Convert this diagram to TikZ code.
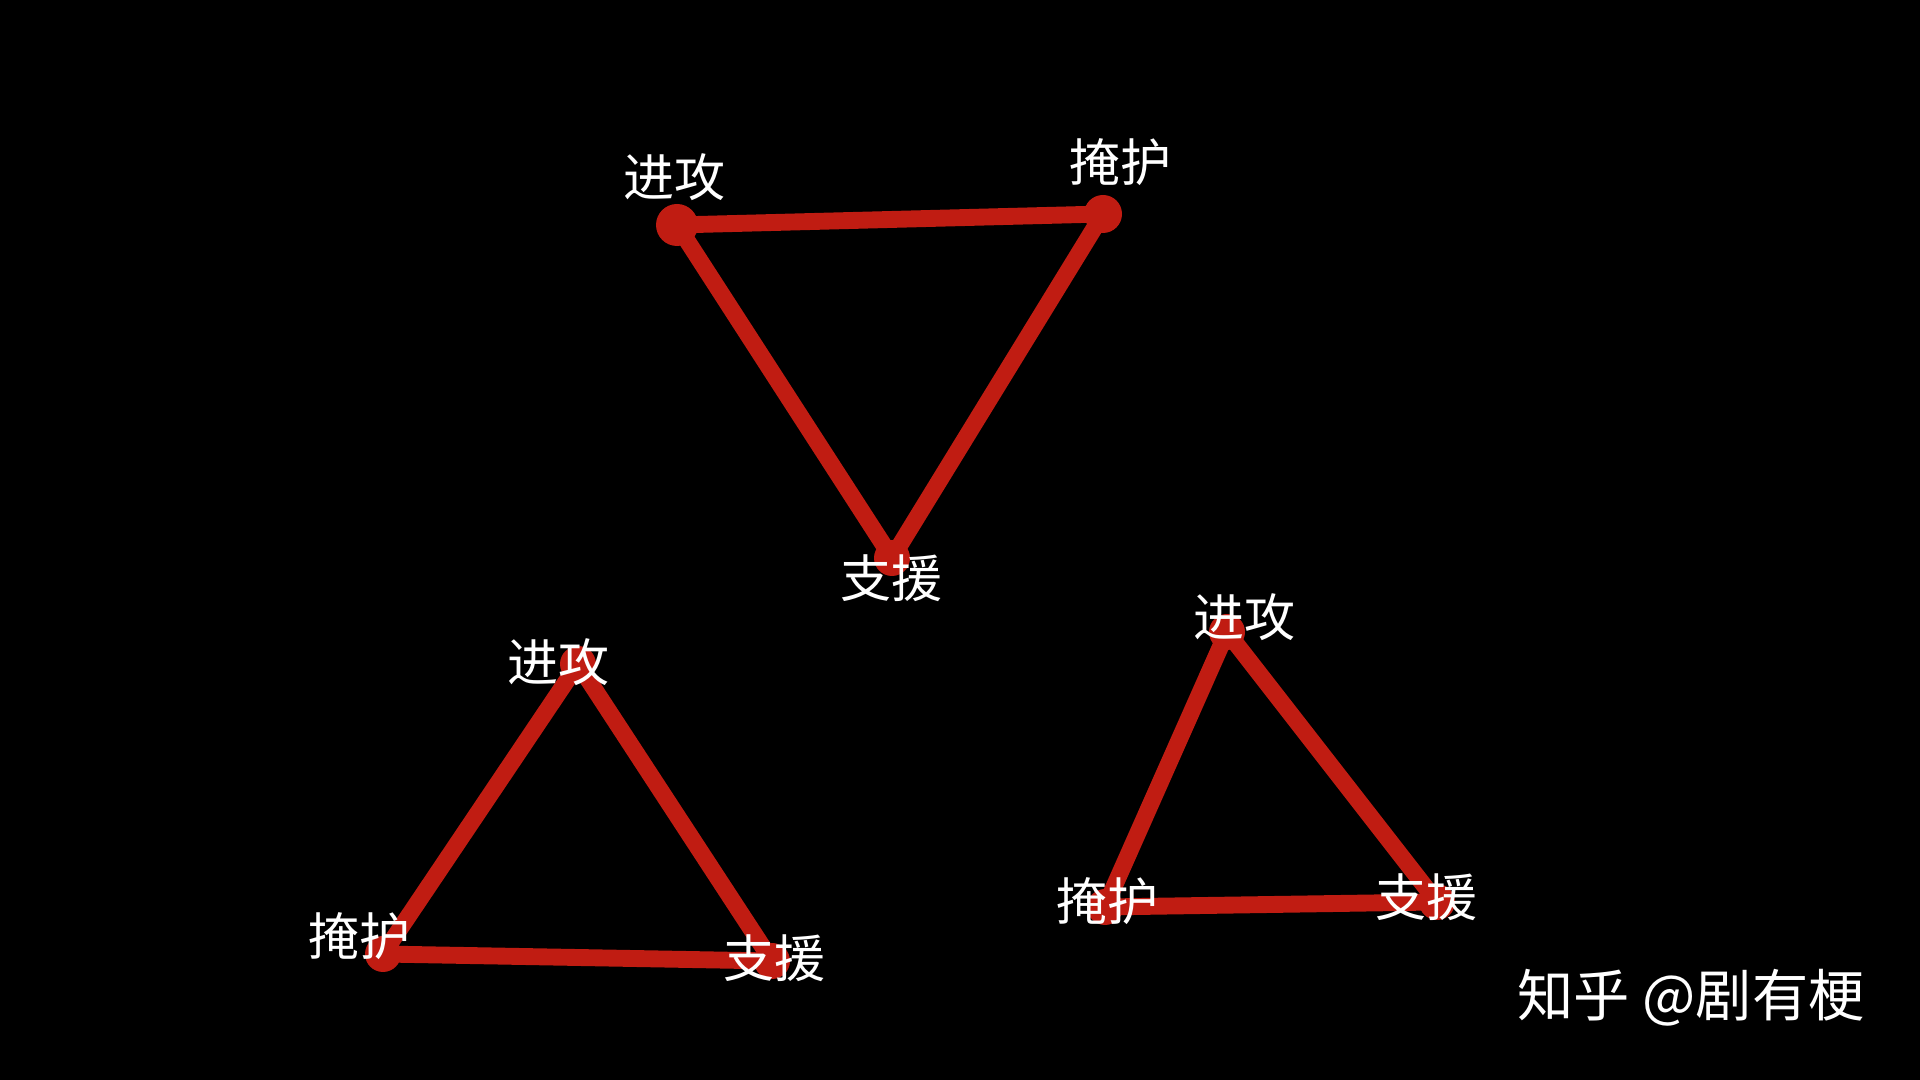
\documentclass[tikz,border=0pt]{standalone}
\usepackage{fontspec}
\newfontfamily\cjk{Noto Sans CJK SC}
\definecolor{tacred}{RGB}{192,28,18}

\begin{document}
\begin{tikzpicture}[x=0.01cm,y=-0.01cm,
        edge/.style={draw=tacred,line width=4.8pt,line join=round,line cap=round},
        dot/.style={fill=tacred},
        role/.style={text=white,inner sep=0pt,font=\cjk\fontsize{14.5}{16}\selectfont}]
        \fill[black] (0,0) rectangle (1920,1080);
        % top triangle
        \begin{scope}
            \coordinate (t-atk) at (677,225);
            \coordinate (t-cov) at (1103,214);
            \coordinate (t-sup) at (892,558);
            \draw[edge] (t-atk) -- (t-cov) -- (t-sup) -- cycle;
            \fill[dot] (t-atk) circle (21);
            \fill[dot] (t-cov) circle (19);
            \fill[dot] (t-sup) circle (18);
            \node[role] (t-atk-l) at (674,177) {进攻};
            \node[role] (t-cov-l) at (1120,162) {掩护};
            \node[role] (t-sup-l) at (891,578) {支援};
        \end{scope}
        % bottom left triangle
        \begin{scope}
            \coordinate (l-atk) at (578,664);
            \coordinate (l-cov) at (383,954);
            \coordinate (l-sup) at (772,961);
            \draw[edge] (l-atk) -- (l-sup) -- (l-cov) -- cycle;
            \fill[dot] (l-atk) circle (18);
            \fill[dot] (l-cov) circle (18);
            \fill[dot] (l-sup) circle (18);
            \node[role] (l-atk-l) at (558,662) {进攻};
            \node[role] (l-cov-l) at (359,936) {掩护};
            \node[role] (l-sup-l) at (774,958) {支援};
        \end{scope}
        % bottom right triangle
        \begin{scope}
            \coordinate (r-atk) at (1227,632);
            \coordinate (r-cov) at (1105,907);
            \coordinate (r-sup) at (1437,902);
            \draw[edge] (r-atk) -- (r-sup) -- (r-cov) -- cycle;
            \fill[dot] (r-atk) circle (18);
            \fill[dot] (r-cov) circle (18);
            \fill[dot] (r-sup) circle (18);
            \node[role] (r-atk-l) at (1244,617) {进攻};
            \node[role] (r-cov-l) at (1107,901) {掩护};
            \node[role] (r-sup-l) at (1426,897) {支援};
        \end{scope}
        \node[role,font=\cjk\fontsize{16}{18}\selectfont] (mark) at (1691,998) {知乎 @剧有梗};
    \end{tikzpicture}
\end{document}
